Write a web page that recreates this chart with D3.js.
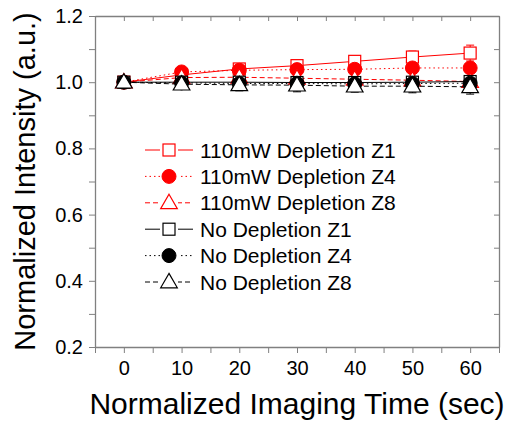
<html>
<head>
<script src="https://cdn.jsdelivr.net/npm/d3@7"></script>
<style>
  body { margin: 0; background: #fff; }
  text { font-family: "Liberation Sans", Arial, sans-serif; fill: #000; }
</style>
</head>
<body>
<script>
// data
const times = [0, 10, 20, 30, 40, 50, 60]
const xTicks = [0, 10, 20, 30, 40, 50, 60]
const yTicks = [0.2, 0.4, 0.6, 0.8, 1.0, 1.2]
const labels = ["110mW Depletion Z1", "110mW Depletion Z4", "110mW Depletion Z8",
                "No Depletion Z1", "No Depletion Z4", "No Depletion Z8"]
const red1 = [1.000, 1.022, 1.040, 1.050, 1.063, 1.076, 1.088]
const red1Err = [0, 0.006, 0.008, 0.010, 0.012, 0.018, 0.024]
const red4 = [1.000, 1.031, 1.036, 1.038, 1.039, 1.043, 1.043]
const red4Err = [0, 0.005, 0.006, 0.006, 0.006, 0.008, 0.008]
const red8 = [1.000, 1.014, 1.015, 1.012, 1.009, 1.006, 1.002]
const red8Err = [0, 0.006, 0.006, 0.006, 0.006, 0.006, 0.006]
const blk1 = [1.000, 1.000, 1.000, 0.999, 0.999, 1.000, 1.002]
const blk1Err = [0, 0.008, 0.008, 0.010, 0.010, 0.010, 0.012]
const blk4 = [1.000, 0.998, 0.996, 0.996, 0.995, 0.996, 0.997]
const blk4Err = [0, 0.008, 0.008, 0.010, 0.010, 0.010, 0.012]
const blk8 = [1.000, 0.994, 0.992, 0.991, 0.988, 0.988, 0.986]
const blk8Err = [0, 0.016, 0.018, 0.020, 0.018, 0.020, 0.022]

const series = [
  {name: labels[0], vals: red1, err: red1Err, color: "#ff0000", dash: null, shape: "square", fill: "#fff"},
  {name: labels[1], vals: red4, err: red4Err, color: "#ff0000", dash: "1.5,3", shape: "circle", fill: "#ff0000"},
  {name: labels[2], vals: red8, err: red8Err, color: "#ff0000", dash: "5,3", shape: "triangle", fill: "#fff"},
  {name: labels[3], vals: blk1, err: blk1Err, color: "#000", dash: null, shape: "square", fill: "#fff"},
  {name: labels[4], vals: blk4, err: blk4Err, color: "#000", dash: "1.5,3", shape: "circle", fill: "#000"},
  {name: labels[5], vals: blk8, err: blk8Err, color: "#000", dash: "5,3", shape: "triangle", fill: "#fff"}
]

const w = 511, h = 423
const mLeft = 95, mRight = 499, mTop = 16, mBottom = 347

const svg = d3.select("body").append("svg")
  .attr("width", w).attr("height", h)

const x = d3.scaleLinear().domain([-5, 65]).range([mLeft, mRight])
const y = d3.scaleLinear().domain([0.2, 1.2]).range([mBottom, mTop])

// axes
const axisColor = "#808080"
const minorX = d3.range(-5, 66, 5)
const minorY = d3.range(0.2, 1.21, 0.1)

function styleAxis(g) {
  g.select(".domain").attr("stroke", axisColor).attr("stroke-width", 1.3)
  g.selectAll(".tick line").attr("stroke", axisColor)
}

svg.append("g").attr("transform", "translate(0," + mBottom + ")")
  .call(d3.axisBottom(x).tickValues(minorX).tickSize(6).tickSizeOuter(0).tickFormat(""))
  .call(styleAxis)
svg.append("g").attr("transform", "translate(0," + mBottom + ")")
  .call(d3.axisBottom(x).tickValues(xTicks).tickSize(0).tickPadding(14).tickFormat(d3.format("d")))
  .call(g => g.select(".domain").remove())
  .selectAll("text").style("font-size", "20px").attr("fill", "#000")

svg.append("g").attr("transform", "translate(0," + mTop + ")")
  .call(d3.axisBottom(x).tickValues(minorX).tickSize(5).tickSizeOuter(0).tickFormat(""))
  .call(styleAxis)

svg.append("g").attr("transform", "translate(" + mLeft + ",0)")
  .call(d3.axisLeft(y).tickValues(minorY).tickSize(6).tickSizeOuter(0).tickFormat(""))
  .call(styleAxis)
svg.append("g").attr("transform", "translate(" + mLeft + ",0)")
  .call(d3.axisLeft(y).tickValues(yTicks).tickSize(0).tickPadding(12).tickFormat(d3.format(".1f")))
  .call(g => g.select(".domain").remove())
  .selectAll("text").style("font-size", "20px").attr("fill", "#000")

svg.append("g").attr("transform", "translate(" + mRight + ",0)")
  .call(d3.axisLeft(y).tickValues(minorY).tickSize(5).tickSizeOuter(0).tickFormat(""))
  .call(styleAxis)

// axis titles
svg.append("text")
  .attr("x", (mLeft + mRight) / 2).attr("y", 414)
  .attr("text-anchor", "middle").style("font-size", "30px")
  .text("Normalized Imaging Time (sec)")
svg.append("text")
  .attr("transform", "translate(35," + ((mTop + mBottom) / 2) + ") rotate(-90)")
  .attr("text-anchor", "middle").style("font-size", "29px")
  .text("Normalized Intensity (a.u.)")

// markers
function marker(g, s, cx, cy) {
  if (s.shape === "square") {
    g.append("rect").attr("x", cx - 6).attr("y", cy - 6).attr("width", 12).attr("height", 12)
      .attr("fill", s.fill).attr("stroke", s.color).attr("stroke-width", 1.2)
  } else if (s.shape === "circle") {
    g.append("circle").attr("cx", cx).attr("cy", cy).attr("r", 7)
      .attr("fill", s.fill).attr("stroke", s.color)
  } else {
    g.append("path")
      .attr("d", d3.symbol(d3.symbolTriangle, 120)())
      .attr("transform", "translate(" + cx + "," + (cy + 1) + ")")
      .attr("fill", s.fill).attr("stroke", s.color).attr("stroke-width", 1.2)
  }
}

const line = d3.line().x((d, i) => x(times[i])).y(d => y(d))
const plot = svg.append("g")

series.forEach(s => {
  plot.append("path").datum(s.vals)
    .attr("d", line).attr("fill", "none")
    .attr("stroke", s.color).attr("stroke-width", 1)
    .attr("stroke-dasharray", s.dash)
  const eb = plot.append("g")
  s.vals.forEach((v, i) => {
    if (!s.err[i]) return
    const cx = x(times[i])
    const y0 = y(v - s.err[i]), y1 = y(v + s.err[i])
    eb.append("line").attr("x1", cx).attr("x2", cx).attr("y1", y0).attr("y2", y1)
      .attr("stroke", s.color).attr("stroke-width", 1)
    eb.append("line").attr("x1", cx - 4).attr("x2", cx + 4).attr("y1", y0).attr("y2", y0)
      .attr("stroke", s.color).attr("stroke-width", 1)
    eb.append("line").attr("x1", cx - 4).attr("x2", cx + 4).attr("y1", y1).attr("y2", y1)
      .attr("stroke", s.color).attr("stroke-width", 1)
  })
  const mg = plot.append("g")
  s.vals.forEach((v, i) => marker(mg, s, x(times[i]), y(v)))
})

// legend
const legend = svg.append("g")
series.forEach((s, i) => {
  const cy = 150 + i * 26.4
  legend.append("line").attr("x1", 145).attr("x2", 193).attr("y1", cy).attr("y2", cy)
    .attr("stroke", s.color).attr("stroke-width", 1)
    .attr("stroke-dasharray", s.dash)
  const mg = legend.append("g")
  // white gap behind the marker
  mg.append("rect").attr("x", 160).attr("y", cy - 8).attr("width", 18).attr("height", 16).attr("fill", "#fff")
  marker(mg, s, 169, cy)
  legend.append("text").attr("x", 200).attr("y", cy + 7.5)
    .style("font-size", "21px").text(s.name)
})
</script>
</body>
</html>
